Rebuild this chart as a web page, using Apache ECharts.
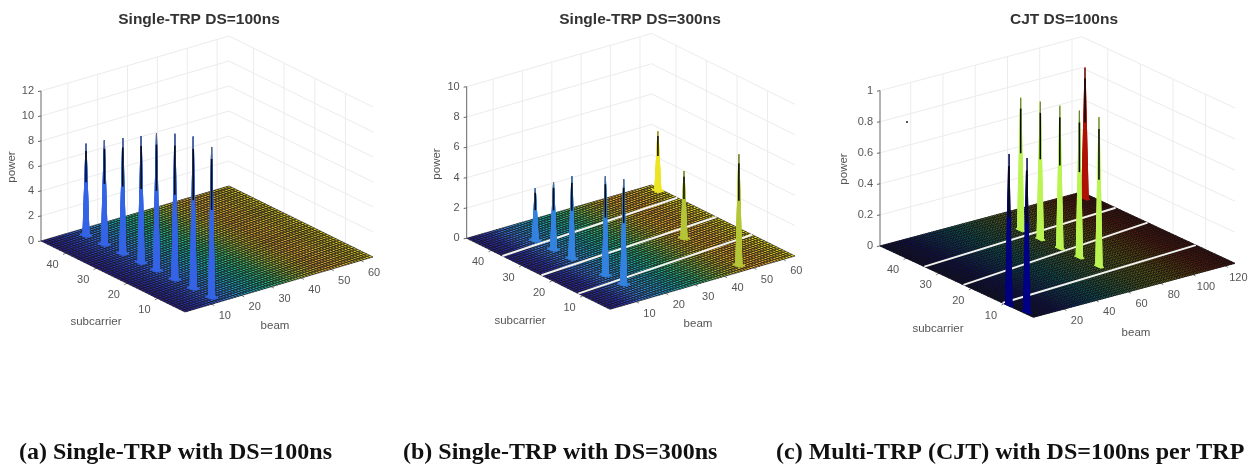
<!DOCTYPE html>
<html>
<head>
<meta charset="utf-8">
<style>
  html, body { margin: 0; padding: 0; background: #fff; }
  #main { width: 1255px; height: 466px; }
</style>
<script src="https://cdn.jsdelivr.net/npm/echarts@6/dist/echarts.min.js"></script>
</head>
<body>
<div id="main"></div>
<script>
// 图 (a)
var aPeakBeam = [13, 13, 13, 13, 13, 13, 13, 13];
var aPeakSub = [45, 39, 33, 27, 22, 16, 10, 4];
var aPeakPower = [7.3, 8.3, 9.2, 10.1, 10.9, 11.6, 12.1, 12];
var aBeamTicks = [10, 20, 30, 40, 50, 60];
var aSubTicks = [10, 20, 30, 40];
var aPowerTicks = [0, 2, 4, 6, 8, 10, 12];

// 图 (b)
var bPeakBeam = [15, 15, 15, 15, 15, 63, 48, 48];
var bPeakSub = [39, 33, 27, 16, 10, 45, 22, 4];
var bPeakPower = [3.4, 4.4, 5.4, 6.5, 6.9, 3.9, 4.4, 7.3];
var bBeamTicks = [10, 20, 30, 40, 50, 60];
var bSubTicks = [10, 20, 30, 40];
var bPowerTicks = [0, 2, 4, 6, 8, 10];
var bGapStart = [36.3, 23.5, 11.4];
var bGapEnd = [39.6, 26.8, 15.1];

// 图 (c)
var cPeakBeam = [122, 70, 70, 70, 70, 70, 2, 3];
var cPeakSub = [45, 39, 33, 27, 21, 15, 9, 4];
var cPeakPower = [0.84, 0.85, 0.884, 0.916, 0.944, 0.96, 0.97, 0.99];
var cBeamTicks = [20, 40, 60, 80, 100, 120];
var cSubTicks = [10, 20, 30, 40];
var cPowerTicks = [0, 0.2, 0.4, 0.6, 0.8, 1];
var cGapStart = [34.4, 22.4, 10.4];
var cGapEnd = [37.6, 27.8, 13];

var titles = ['Single-TRP DS=100ns', 'Single-TRP DS=300ns', 'CJT DS=100ns'];
var captions = ['(a) Single-TRP with DS=100ns', '(b) Single-TRP with DS=300ns', '(c) Multi-TRP (CJT) with DS=100ns per TRP'];

var parulaA = ['#2a1f9c', '#2b35c4', '#3560e6', '#2f86e0', '#1fa4c0', '#1db59a', '#3cbc70', '#88bd45', '#c4b52f', '#d8a030', '#e0b030', '#c8b028', '#e8d828'];
var parulaB = ['#2a1f9c', '#2b35c4', '#3a78ea', '#2f96e0', '#1fa4c0', '#1db59a', '#3cbc70', '#88bd45', '#c4b52f', '#eeb02a', '#e8a830', '#e8c428', '#f6ec20'];
var spikeB = ['#2a1f9c', '#3a78ea', '#1fa4c0', '#3cbc70', '#a8c43a', '#c8c830', '#f6ec20'];
var jetLike = ['#00007f', '#0000e0', '#0070ff', '#00d0e8', '#60f0a0', '#c4f44a', '#f8f020', '#ff9000', '#e82000', '#900808'];

// 每个子图的投影: 前角, beam 轴端点, subcarrier 轴端点, power 轴高度 (grid 内像素)
var panels = [
  { left: 0, width: 410, front: [185, 312], beamEnd: [373, 257], subEnd: [41, 241], zHeight: 150, beamMax: 64, subMax: 48,
    peakBeam: aPeakBeam, peakSub: aPeakSub, peakPower: aPeakPower, beamTicks: aBeamTicks, subTicks: aSubTicks, powerTicks: aPowerTicks,
    gapStart: [], gapEnd: [], colors: parulaA, spikeColors: parulaA, titleX: 194, meshWidth: 0.65, names: [[275, 326], [96, 322], [12, 167]] },
  { left: 410, width: 410, front: [200, 309.3], beamEnd: [385, 256], subEnd: [56.7, 238.3], zHeight: 151.6, beamMax: 64, subMax: 48,
    peakBeam: bPeakBeam, peakSub: bPeakSub, peakPower: bPeakPower, beamTicks: bBeamTicks, subTicks: bSubTicks, powerTicks: bPowerTicks,
    gapStart: bGapStart, gapEnd: bGapEnd, colors: parulaB, spikeColors: spikeB, titleX: 635, meshWidth: 0.65, names: [[698, 324], [520, 321], [437, 164]] },
  { left: 830, width: 425, front: [203.3, 317.3], beamEnd: [405, 263.3], subEnd: [50, 246], zHeight: 155.3, beamMax: 126, subMax: 48,
    peakBeam: cPeakBeam, peakSub: cPeakSub, peakPower: cPeakPower, beamTicks: cBeamTicks, subTicks: cSubTicks, powerTicks: cPowerTicks,
    gapStart: cGapStart, gapEnd: cGapEnd, colors: jetLike, spikeColors: jetLike, titleX: 1059, meshWidth: 0.88, names: [[1136, 333], [938, 329], [844, 169]] }
];

var tickFont = '11px "Liberation Sans"';
var nameFont = '11.5px "Liberation Sans"';
var wallColor = '#ececec';

function project(p, beam, sub, power) {
  var t = (beam - 1) / (p.beamMax - 1);
  var w = (sub - 1) / (p.subMax - 1);
  var zMax = p.powerTicks[p.powerTicks.length - 1];
  return [
    p.front[0] + t * (p.beamEnd[0] - p.front[0]) + w * (p.subEnd[0] - p.front[0]),
    p.front[1] + t * (p.beamEnd[1] - p.front[1]) + w * (p.subEnd[1] - p.front[1]) - power / zMax * p.zHeight
  ];
}

function powerAt(p, beam, sub) {
  for (var i = 0; i < p.peakBeam.length; i++) {
    if (p.peakBeam[i] === beam && p.peakSub[i] === sub) return p.peakPower[i];
  }
  return 0;
}

// 一个网格单元: 四个顶点的 power 都放进数据
function cellRow(p, b, s) {
  return [b, s, powerAt(p, b, s), powerAt(p, b + 1, s), powerAt(p, b + 1, s + 1), powerAt(p, b, s + 1)];
}

function cellRenderer(p, strokeWidth, stroke) {
  return function (params, api) {
    var b = api.value(0), s = api.value(1);
    var corners = [
      project(p, b, s, api.value(2)),
      project(p, b + 1, s, api.value(3)),
      project(p, b + 1, s + 1, api.value(4)),
      project(p, b, s + 1, api.value(5))
    ].map(function (c) { return api.coord(c); });
    return {
      type: 'polygon',
      shape: { points: corners },
      style: { fill: api.visual('color'), stroke: stroke || api.visual('color'), lineWidth: strokeWidth }
    };
  };
}

// 尖峰上部的黑色棱线: 线框在顶部挤成一条
function ridgeRenderer(p) {
  return function (params, api) {
    var b = api.value(0), s = api.value(1), h = api.value(2);
    var c0 = api.coord(project(p, b, s, h * 0.58));
    var c1 = api.coord(project(p, b, s, h * 0.92));
    var c2 = api.coord(project(p, b, s, h));
    return {
      type: 'group',
      children: [
        { type: 'line', shape: { x1: c0[0], y1: c0[1], x2: c1[0], y2: c1[1] }, style: { stroke: '#0a0a0a', lineWidth: 1.6 } },
        { type: 'line', shape: { x1: c1[0], y1: c1[1], x2: c2[0], y2: c2[1] }, style: { stroke: '#666', lineWidth: 1 } }
      ]
    };
  };
}

// 坐标轴: 第一列 0=power 1=beam 2=subcarrier, 第二列是刻度值
function axisRenderer(p) {
  return function (params, api) {
    var kind = api.value(0), v = api.value(1);
    var zMax = p.powerTicks[p.powerTicks.length - 1];
    var kids = [];
    function seg(a, b, color, lw) {
      var c1 = api.coord(a), c2 = api.coord(b);
      kids.push({ type: 'line', shape: { x1: c1[0], y1: c1[1], x2: c2[0], y2: c2[1] }, style: { stroke: color, lineWidth: lw } });
    }
    function label(pt, text, align) {
      var c = api.coord(pt);
      kids.push({ type: 'text', style: { x: c[0], y: c[1], text: text, fill: '#555', font: tickFont, align: align, verticalAlign: 'middle' } });
    }
    if (kind === 0) {
      var l = project(p, 1, p.subMax, v), k = project(p, p.beamMax, p.subMax, v), r = project(p, p.beamMax, 1, v);
      seg(l, k, wallColor, 1);
      seg(k, r, wallColor, 1);
      seg(l, [l[0] - 3, l[1] + 0.5], '#666', 1);
      label([l[0] - 7, l[1]], String(v), 'right');
    } else if (kind === 1) {
      seg(project(p, v, p.subMax, 0), project(p, v, p.subMax, zMax), wallColor, 1);
      var tb = project(p, v, 1, 0);
      seg(tb, [tb[0] + 2.5, tb[1] + 1.5], '#777', 1);
      label([tb[0] + 13, tb[1] + 12], String(v), 'center');
    } else {
      seg(project(p, p.beamMax, v, 0), project(p, p.beamMax, v, zMax), wallColor, 1);
      var ts = project(p, 1, v, 0);
      seg(ts, [ts[0] - 2.5, ts[1] + 1.5], '#777', 1);
      label([ts[0] - 13, ts[1] + 12], String(v), 'center');
    }
    return { type: 'group', children: kids };
  };
}

function gapRenderer(p) {
  return function (params, api) {
    var a = api.coord(project(p, 1, api.value(0), 0));
    var b = api.coord(project(p, p.beamMax, api.value(1), 0));
    return { type: 'line', shape: { x1: a[0], y1: a[1], x2: b[0], y2: b[1] }, style: { stroke: '#f2f2ee', lineWidth: 2 } };
  };
}

var grids = [], xAxes = [], yAxes = [], series = [], visualMaps = [], titleList = [], graphics = [];

panels.forEach(function (p, i) {
  grids.push({ left: p.left, top: 0, width: p.width, height: 466 });
  xAxes.push({ type: 'value', gridIndex: i, min: 0, max: p.width, show: false });
  yAxes.push({ type: 'value', gridIndex: i, min: 0, max: 466, inverse: true, show: false });

  // 后墙和刻度
  var axisRows = [];
  p.powerTicks.forEach(function (v) { axisRows.push([0, v]); });
  p.beamTicks.forEach(function (v) { axisRows.push([1, v]); });
  p.subTicks.forEach(function (v) { axisRows.push([2, v]); });
  series.push({ type: 'custom', xAxisIndex: i, yAxisIndex: i, data: axisRows, renderItem: axisRenderer(p), silent: true, animation: false, clip: false, z: 1 });

  // power 轴竖线
  series.push({
    type: 'custom', xAxisIndex: i, yAxisIndex: i, data: [[0]], silent: true, animation: false, clip: false, z: 2,
    renderItem: function (params, api) {
      var a = api.coord(project(p, 1, p.subMax, 0));
      var b = api.coord(project(p, 1, p.subMax, p.powerTicks[p.powerTicks.length - 1]));
      return { type: 'line', shape: { x1: a[0], y1: a[1], x2: b[0], y2: b[1] }, style: { stroke: '#666', lineWidth: 1 } };
    }
  });

  // 地面网格, 从后往前画
  var floorRows = [];
  for (var s = p.subMax - 1; s >= 1; s--) {
    for (var b = p.beamMax - 1; b >= 1; b--) {
      floorRows.push([b, s, 0, 0, 0, 0]);
    }
  }
  var floorIndex = series.length;
  series.push({ type: 'custom', xAxisIndex: i, yAxisIndex: i, data: floorRows, renderItem: cellRenderer(p, p.meshWidth, '#111'), silent: true, animation: false, clip: false, z: 3 });

  // 白色间隔线
  if (p.gapStart.length) {
    var gapRows = p.gapStart.map(function (v, k) { return [v, p.gapEnd[k]]; });
    series.push({ type: 'custom', xAxisIndex: i, yAxisIndex: i, data: gapRows, renderItem: gapRenderer(p), silent: true, animation: false, clip: false, z: 4 });
  }

  // 尖峰: 峰值周围四个单元, 按屏幕 y 从后往前
  var order = p.peakBeam.map(function (v, k) { return k; }).sort(function (m, n) {
    return project(p, p.peakBeam[m], p.peakSub[m], 0)[1] - project(p, p.peakBeam[n], p.peakSub[n], 0)[1];
  });
  var spikeRows = [];
  var ridgeRows = [];
  order.forEach(function (k) {
    var pb = p.peakBeam[k], ps = p.peakSub[k];
    spikeRows.push(cellRow(p, pb, ps));
    spikeRows.push(cellRow(p, pb - 1, ps));
    spikeRows.push(cellRow(p, pb, ps - 1));
    spikeRows.push(cellRow(p, pb - 1, ps - 1));
    ridgeRows.push([pb, ps, p.peakPower[k]]);
  });
  var spikeIndex = series.length;
  series.push({ type: 'custom', xAxisIndex: i, yAxisIndex: i, data: spikeRows, renderItem: cellRenderer(p, 1), silent: true, animation: false, clip: false, z: 5 });
  series.push({ type: 'custom', xAxisIndex: i, yAxisIndex: i, data: ridgeRows, renderItem: ridgeRenderer(p), silent: true, animation: false, clip: false, z: 6 });

  visualMaps.push({
    type: 'continuous', show: false, dimension: 0, min: 1, max: p.beamMax,
    seriesIndex: floorIndex, inRange: { color: p.colors }
  });
  visualMaps.push({
    type: 'continuous', show: false, dimension: 0, min: 1, max: p.beamMax,
    seriesIndex: spikeIndex, inRange: { color: p.spikeColors }
  });

  titleList.push({
    text: titles[i], left: p.titleX, top: 7, textAlign: 'center',
    textStyle: { fontFamily: 'Liberation Sans', fontWeight: 'bold', fontSize: 15.5, color: '#333' }
  });

  ['beam', 'subcarrier', 'power'].forEach(function (name, k) {
    graphics.push({
      type: 'text', x: p.names[k][0], y: p.names[k][1], rotation: k === 2 ? Math.PI / 2 : 0,
      style: { text: name, font: nameFont, fill: '#555', align: 'center', verticalAlign: 'middle' }, z: 10
    });
  });
});

var captionX = [14, 398, 771];
captions.forEach(function (text, i) {
  titleList.push({
    text: text, left: captionX[i], top: 436,
    textStyle: { fontFamily: 'Liberation Serif', fontWeight: 'bold', fontSize: 24, color: '#111' }
  });
});

// 图 (c) 左上角的小黑点
graphics.push({ type: 'circle', shape: { cx: 907, cy: 122, r: 1 }, style: { fill: '#222' }, z: 10 });

var myChart = echarts.init(document.getElementById('main'), null, { renderer: 'canvas' });
myChart.setOption({
  animation: false,
  backgroundColor: '#fff',
  title: titleList,
  grid: grids,
  xAxis: xAxes,
  yAxis: yAxes,
  visualMap: visualMaps,
  series: series,
  graphic: graphics
});
</script>
</body>
</html>
